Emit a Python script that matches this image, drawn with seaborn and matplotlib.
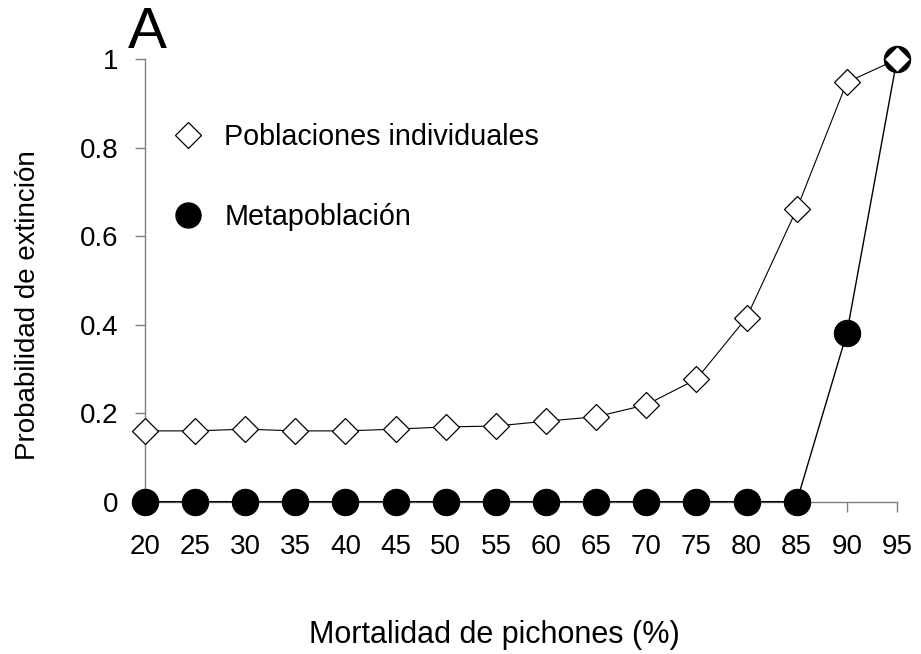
import matplotlib
matplotlib.use("Agg")
import matplotlib.pyplot as plt
import seaborn as sns
import pandas as pd
from matplotlib.lines import Line2D

mortalidad = [20, 25, 30, 35, 40, 45, 50, 55, 60, 65, 70, 75, 80, 85, 90, 95]
poblaciones_individuales = [0.160, 0.160, 0.164, 0.160, 0.160, 0.164, 0.169, 0.171,
                            0.182, 0.192, 0.219, 0.277, 0.416, 0.661, 0.948, 1.000]
metapoblacion = [0, 0, 0, 0, 0, 0, 0, 0, 0, 0, 0, 0, 0, 0, 0.381, 1.000]
y_ticks = [0, 0.2, 0.4, 0.6, 0.8, 1.0]
y_tick_labels = ["0", "0.2", "0.4", "0.6", "0.8", "1"]
label_ind = "Poblaciones individuales"
label_meta = "Metapoblación"

df = pd.DataFrame({"x": mortalidad, "ind": poblaciones_individuales, "meta": metapoblacion})

sns.set_theme(style="ticks")
plt.rcParams["font.family"] = ["Liberation Sans", "DejaVu Sans"]
plt.rcParams["text.color"] = "black"
plt.rcParams["axes.labelcolor"] = "black"

fig = plt.figure(figsize=(9.21, 6.54), dpi=100)
ax = fig.add_axes([0.1574, 0.2329, 0.8165, 0.6764])

sns.lineplot(data=df, x="x", y="meta", ax=ax, color="black", linewidth=1.0,
             marker="o", markersize=19, markerfacecolor="black", markeredgecolor="black",
             clip_on=False, zorder=3)
sns.lineplot(data=df, x="x", y="ind", ax=ax, color="black", linewidth=0.8,
             marker="D", markersize=13, markerfacecolor="white", markeredgecolor="black",
             markeredgewidth=0.9, clip_on=False, zorder=4)

ax.set_xlim(20, 95)
ax.set_ylim(0, 1)
ax.set_xticks(mortalidad)
ax.set_xticklabels([str(v) for v in mortalidad])
ax.set_yticks(y_ticks)
ax.set_yticklabels(y_tick_labels)

for s in ["top", "right"]:
    ax.spines[s].set_visible(False)
for s in ["left", "bottom"]:
    ax.spines[s].set_color("#808080")
    ax.spines[s].set_linewidth(1.0)

ax.tick_params(axis="x", direction="out", length=7.2, width=1, color="#808080",
               labelsize=20, pad=16, labelcolor="black")
ax.tick_params(axis="y", direction="out", length=7.2, width=1, color="#808080",
               labelsize=20, pad=12, labelcolor="black")

ax.set_xlabel("Mortalidad de pichones (%)", fontsize=22, color="black")
ax.set_ylabel("Probabilidad de extinción", fontsize=20, color="black")
ax.xaxis.set_label_coords(0.465, -0.268)
ax.yaxis.set_label_coords(-0.138, 0.445)

handles = [
    Line2D([], [], linestyle="none", marker="D", markersize=13, markerfacecolor="white",
           markeredgecolor="black", markeredgewidth=0.9),
    Line2D([], [], linestyle="none", marker="o", markersize=18, markerfacecolor="black",
           markeredgecolor="black"),
]
leg = ax.legend(handles, [label_ind, label_meta], loc="upper left",
                bbox_to_anchor=(174 / 921, 1 - 123 / 654), bbox_transform=fig.transFigure,
                frameon=False, fontsize=20.7, borderpad=0, borderaxespad=0,
                handlelength=1.0, handletextpad=0.75, labelspacing=1.8)
for t in leg.get_texts():
    t.set_color("black")

fig.text(147.5 / 921, 1 - 48 / 654, "A", fontsize=42, ha="center", va="baseline",
         color="black")

fig.savefig("out.png", dpi=100)
